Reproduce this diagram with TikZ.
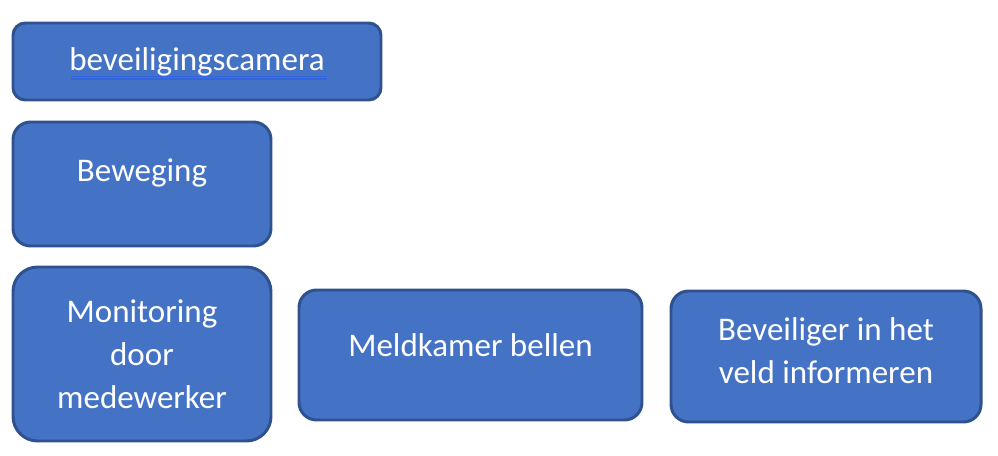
\documentclass[tikz,border=0pt]{standalone}
\usepackage{fontspec}
\setmainfont{Carlito}
\usetikzlibrary{positioning,calc}
\definecolor{boxFill}{HTML}{4472C4}
\definecolor{boxLine}{HTML}{2F528F}
\definecolor{spellBlue}{HTML}{3366DD}
\tikzset{
  flowBox/.style={draw=boxLine, fill=boxFill, line width=1.7pt,
    text=white, align=center, inner sep=0pt,
    font=\fontsize{18.8}{24.6}\selectfont},
  %% squiggle under misspelled word
  spellLine/.style={draw=spellBlue, line width=0.6pt},
}
\begin{document}
\begin{tikzpicture}[x=0.02cm, y=-0.02cm]
\useasboundingbox (0,0) rectangle (998,456);

%% Boxes
\node[flowBox, rounded corners=7pt, minimum width=368*0.02cm, minimum height=77*0.02cm]
  (cam) at (197,61.5) {beveiligingscamera};
\node[flowBox, rounded corners=10pt, minimum width=258*0.02cm, minimum height=124*0.02cm,
  text depth=16pt] (motion) at (142,184) {Beweging};
\node[flowBox, rounded corners=14pt, minimum width=258*0.02cm, minimum height=174*0.02cm]
  (monitor) at (142,354) {Monitoring\\door\\medewerker};
\node[flowBox, rounded corners=10pt, minimum width=343*0.02cm, minimum height=130*0.02cm,
  text depth=11pt] (call) at (470.5,355) {Meldkamer bellen};
\node[flowBox, rounded corners=10pt, minimum width=310*0.02cm, minimum height=131*0.02cm,
  text depth=7pt] (guard) at (826,356.5) {Beveiliger in het\\veld informeren};

%% Spell check mark
\draw[spellLine] (71,76.5) -- (327,76.5);
\draw[spellLine] (71,79) -- (327,79);

\end{tikzpicture}
\end{document}
